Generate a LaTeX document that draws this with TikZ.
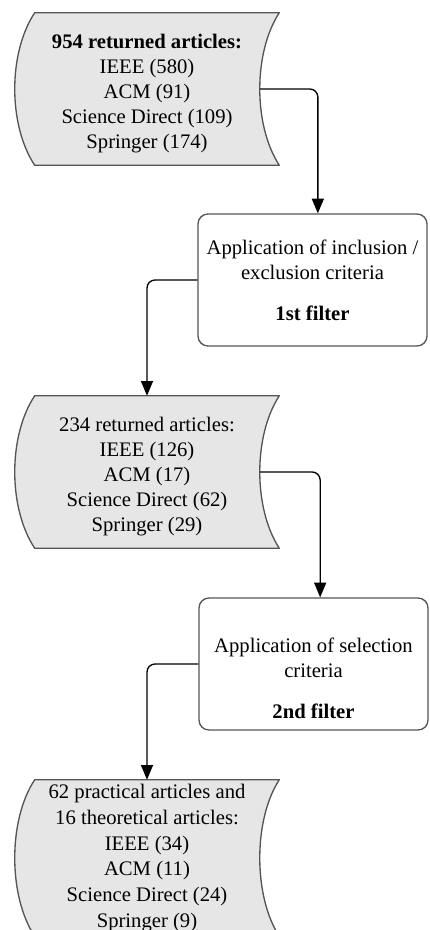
\documentclass[tikz,border=0pt]{standalone}
\usepackage{fontspec}
\setmainfont{Liberation Serif}
\usetikzlibrary{arrows.meta,backgrounds}
\definecolor{boxfill}{RGB}{230,230,230}
\definecolor{boxline}{RGB}{85,85,85}
\newcommand{\topgap}[1]{\rule{0pt}{#1}}
\newcommand{\storeshape}[1]{%
  \filldraw[store] ([xshift=7.5pt]#1.north west) -- ([xshift=7.5pt]#1.north east)
    .. controls ([xshift=-12pt,yshift=-30pt]#1.north east) and ([xshift=-12pt,yshift=30pt]#1.south east) .. ([xshift=7.5pt]#1.south east)
    -- ([xshift=7.5pt]#1.south west)
    .. controls ([xshift=-12.5pt,yshift=30pt]#1.south west) and ([xshift=-12.5pt,yshift=-30pt]#1.north west) .. cycle;}
\begin{document}
\begin{tikzpicture}[x=0.75pt,y=-0.75pt]
\tikzstyle{every node}=[font=\fontsize{15.5}{18.75}\selectfont,align=center]
\tikzstyle{result}=[minimum width=183pt,minimum height=114pt,inner sep=0pt]
\tikzstyle{store}=[fill=boxfill,draw=boxline,line width=1pt,line join=round]
\tikzstyle{filter}=[draw=boxline,line width=1pt,rounded corners=7.5pt,minimum width=171.75pt,minimum height=99pt,inner sep=0pt]
\tikzstyle{flow}=[line width=1pt,rounded corners=6pt,-{Triangle[length=11pt,width=9pt]}]
\useasboundingbox (0,0) rectangle (429,930);
\node[result] (res1) at (147,89) {\topgap{18pt}\textbf{954 returned articles:}\\IEEE (580)\\ACM (91)\\Science Direct (109)\\Springer (174)};
\node[filter] (filt1) at (312.5,280) {Application of inclusion /\\exclusion criteria\\[12pt]\textbf{1st filter}};
\node[result] (res2) at (147,472) {\topgap{18pt}234 returned articles:\\IEEE (126)\\ACM (17)\\Science Direct (62)\\Springer (29)};
\node[filter] (filt2) at (313.5,664) {\topgap{32pt}Application of selection\\criteria\\[12pt]\textbf{2nd filter}};
\node[result,minimum height=117pt,font=\fontsize{15.5}{19.3}\selectfont] (res3) at (147,858) {62 practical articles and\\16 theoretical articles:\\IEEE (34)\\ACM (11)\\Science Direct (24)\\Springer (9)};
\begin{scope}[on background layer]
\storeshape{res1}
\storeshape{res2}
\storeshape{res3}
\end{scope}
\draw[flow] ([xshift=-7pt]res1.east) -| ([xshift=4pt]filt1.north);
\draw[flow] (filt1.west) -| (res2.north);
\draw[flow] ([xshift=-7pt]res2.east) -| ([xshift=5pt]filt2.north);
\draw[flow] (filt2.west) -| (res3.north);
\end{tikzpicture}
\end{document}
